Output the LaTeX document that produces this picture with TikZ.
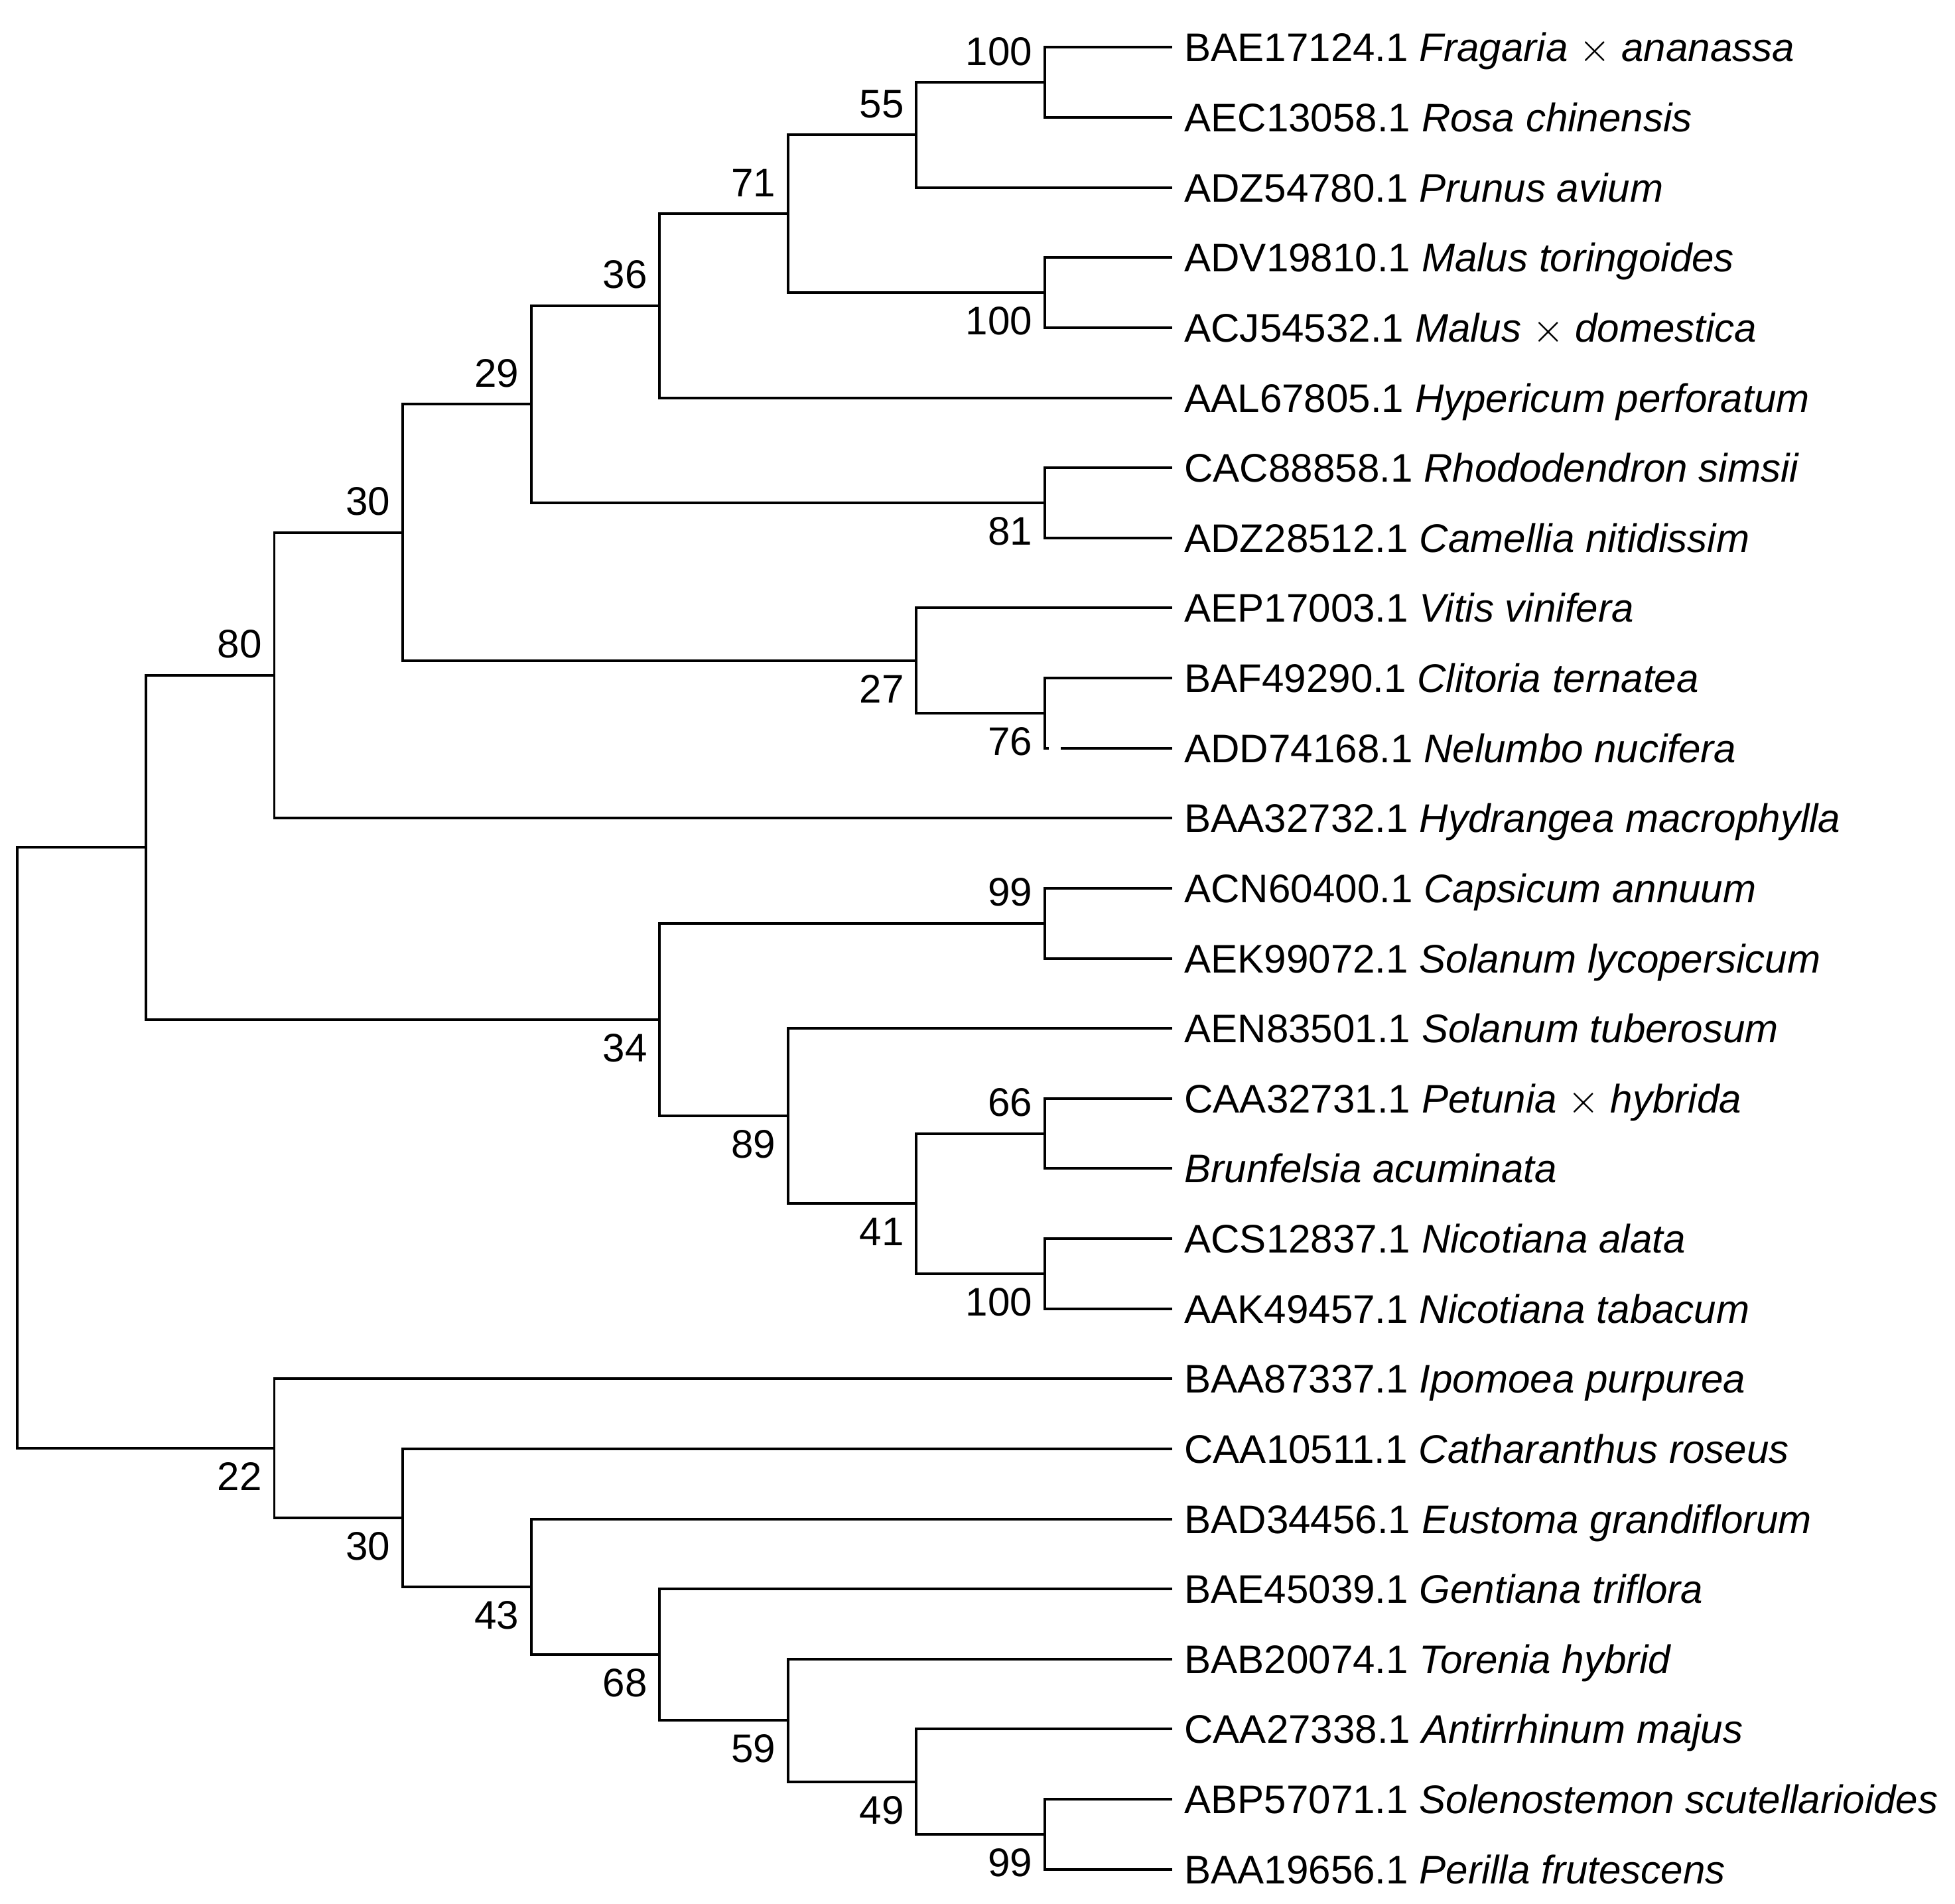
\documentclass[tikz,border=0pt]{standalone}
\usepackage{fontspec}
\setmainfont{Liberation Sans}
\usetikzlibrary{calc,positioning}
\tikzset{leaf/.style={anchor=west, inner xsep=1mm, inner ysep=2.485pt, outer sep=0pt, text height=8.77pt, text depth=2.25pt}, next leaf/.style={leaf, below=0pt of #1.south west, anchor=north west}, branch/.style={line width=0.6pt}, boot/.style={inner xsep=1mm, outer sep=0pt}, boot up/.style={boot, anchor=south east, inner ysep=1.35mm}, boot down/.style={boot, anchor=north east, inner ysep=1.15mm}}
% fork at level #2 joining an upper child #3 and a lower child #4
\newcommand{\clade}[4]{%
  \coordinate (#1m) at ($(#3)!.5!(#4)$);
  \coordinate (#1) at (#1m -| #2);
  \draw[branch] (#3) -| (#1) |- (#4);}

\begin{document}
\begin{tikzpicture}[x=0.1mm, y=-0.1mm, font=\fontsize{9.1pt}{11pt}\selectfont]
    \useasboundingbox (0,0) rectangle (1568,1527);
    \fill[white] (0,0) rectangle (1568,1527);
    % depth levels of the forks
    \coordinate (x0) at (14,0);
    \coordinate (x1) at (117,0);
    \coordinate (x2) at (220,0);
    \coordinate (x3) at (323,0);
    \coordinate (x4) at (426,0);
    \coordinate (x5) at (529,0);
    \coordinate (x6) at (632,0);
    \coordinate (x7) at (735,0);
    \coordinate (x8) at (838,0);
    % taxa
    \node[leaf] (L1) at (940,38) {BAE17124.1 \textit{Fragaria} $\times$ \textit{ananassa}};
    \node[next leaf=L1] (L2) {AEC13058.1 \textit{Rosa chinensis}};
    \node[next leaf=L2] (L3) {ADZ54780.1 \textit{Prunus avium}};
    \node[next leaf=L3] (L4) {ADV19810.1 \textit{Malus toringoides}};
    \node[next leaf=L4] (L5) {ACJ54532.1 \textit{Malus} $\times$ \textit{domestica}};
    \node[next leaf=L5] (L6) {AAL67805.1 \textit{Hypericum perforatum}};
    \node[next leaf=L6] (L7) {CAC88858.1 \textit{Rhododendron simsii}};
    \node[next leaf=L7] (L8) {ADZ28512.1 \textit{Camellia nitidissim}};
    \node[next leaf=L8] (L9) {AEP17003.1 \textit{Vitis vinifera}};
    \node[next leaf=L9] (L10) {BAF49290.1 \textit{Clitoria ternatea}};
    \node[next leaf=L10] (L11) {ADD74168.1 \textit{Nelumbo nucifera}};
    \node[next leaf=L11] (L12) {BAA32732.1 \textit{Hydrangea macrophylla}};
    \node[next leaf=L12] (L13) {ACN60400.1 \textit{Capsicum annuum}};
    \node[next leaf=L13] (L14) {AEK99072.1 \textit{Solanum lycopersicum}};
    \node[next leaf=L14] (L15) {AEN83501.1 \textit{Solanum tuberosum}};
    \node[next leaf=L15] (L16) {CAA32731.1 \textit{Petunia} $\times$ \textit{hybrida}};
    \node[next leaf=L16] (L17) {\textit{Brunfelsia acuminata}};
    \node[next leaf=L17] (L18) {ACS12837.1 \textit{Nicotiana alata}};
    \node[next leaf=L18] (L19) {AAK49457.1 \textit{Nicotiana tabacum}};
    \node[next leaf=L19] (L20) {BAA87337.1 \textit{Ipomoea purpurea}};
    \node[next leaf=L20] (L21) {CAA10511.1 \textit{Catharanthus roseus}};
    \node[next leaf=L21] (L22) {BAD34456.1 \textit{Eustoma grandiflorum}};
    \node[next leaf=L22] (L23) {BAE45039.1 \textit{Gentiana triflora}};
    \node[next leaf=L23] (L24) {BAB20074.1 \textit{Torenia hybrid}};
    \node[next leaf=L24] (L25) {CAA27338.1 \textit{Antirrhinum majus}};
    \node[next leaf=L25] (L26) {ABP57071.1 \textit{Solenostemon scutellarioides}};
    \node[next leaf=L26] (L27) {BAA19656.1 \textit{Perilla frutescens}};
    % upper part
    \clade{c100a}{x8}{L1.west}{L2.west}
    \clade{c55}{x7}{c100a}{L3.west}
    \clade{c100b}{x8}{L4.west}{L5.west}
    \clade{c71}{x6}{c55}{c100b}
    \clade{c36}{x5}{c71}{L6.west}
    \clade{c81}{x8}{L7.west}{L8.west}
    \clade{c29}{x4}{c36}{c81}
    % the Nelumbo branch has a small break near its fork
    \coordinate (c76m) at ($(L10.west)!.5!(L11.west)$);
    \coordinate (c76) at (c76m -| x8);
    \draw[branch] (L10.west) -| (c76) |- ([xshift=-9.9mm]L11.west);
    \draw[branch] ([xshift=-8.9mm]L11.west) -- (L11.west);
    \clade{c27}{x7}{L9.west}{c76}
    \clade{c30a}{x3}{c29}{c27}
    \clade{c80}{x2}{c30a}{L12.west}
    % Solanaceae
    \clade{c99a}{x8}{L13.west}{L14.west}
    \clade{c66}{x8}{L16.west}{L17.west}
    \clade{c100c}{x8}{L18.west}{L19.west}
    \clade{c41}{x7}{c66}{c100c}
    \clade{c89}{x6}{L15.west}{c41}
    \clade{c34}{x5}{c99a}{c89}
    \clade{cup}{x1}{c80}{c34}
    % lower part
    \clade{c99b}{x8}{L26.west}{L27.west}
    \clade{c49}{x7}{L25.west}{c99b}
    \clade{c59}{x6}{L24.west}{c49}
    \clade{c68}{x5}{L23.west}{c59}
    \clade{c43}{x4}{L22.west}{c68}
    \clade{c30b}{x3}{L21.west}{c43}
    \clade{c22}{x2}{L20.west}{c30b}
    \clade{root}{x0}{cup}{c22}
    % bootstrap values
    \node[boot up] (b100a) at (c100a) {100};
    \node[boot up] (b55) at (c55) {55};
    \node[boot down] (b100b) at (c100b) {100};
    \node[boot up] (b71) at (c71) {71};
    \node[boot up] (b36) at (c36) {36};
    \node[boot down] (b81) at (c81) {81};
    \node[boot up] (b29) at (c29) {29};
    \node[boot down] (b76) at (c76) {76};
    \node[boot down] (b27) at (c27) {27};
    \node[boot up] (b30a) at (c30a) {30};
    \node[boot up] (b80) at (c80) {80};
    \node[boot up] (b99a) at (c99a) {99};
    \node[boot up] (b66) at (c66) {66};
    \node[boot down] (b100c) at (c100c) {100};
    \node[boot down] (b41) at (c41) {41};
    \node[boot down] (b89) at (c89) {89};
    \node[boot down] (b34) at (c34) {34};
    \node[boot down] (b99b) at (c99b) {99};
    \node[boot down] (b49) at (c49) {49};
    \node[boot down] (b59) at (c59) {59};
    \node[boot down] (b68) at (c68) {68};
    \node[boot down] (b43) at (c43) {43};
    \node[boot down] (b30b) at (c30b) {30};
    \node[boot down] (b22) at (c22) {22};
\end{tikzpicture}
\end{document}
